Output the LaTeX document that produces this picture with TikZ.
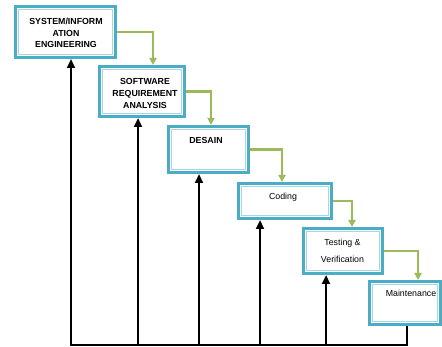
\documentclass[tikz,border=0pt]{standalone}
\usepackage{fontspec}
\setmainfont{Liberation Sans}
\usetikzlibrary{arrows.meta}
\definecolor{boxteal}{HTML}{4BACC6}
\definecolor{boxinner}{HTML}{A5D8E6}
\definecolor{flowgreen}{HTML}{9BBB59}
\begin{document}
\begin{tikzpicture}[x=1pt,y=-1pt,
  phase/.style={draw=boxteal, line width=2.8pt, fill=white, rectangle,
    inner sep=0pt},
  innerline/.style={draw=boxinner, line width=1.1pt},
  lbl/.style={align=center, inner sep=0pt,
    font=\fontsize{8.8}{11.6}\selectfont},
  lblbold/.style={lbl, font=\fontsize{8.8}{11.6}\selectfont\bfseries},
  flow/.style={draw=flowgreen, line width=2.2pt,
    -{Triangle[length=7pt,width=7pt]}},
  ret/.style={draw=black, line width=2.3pt, line join=miter,
    -{Triangle[length=9pt,width=8pt]}}
]
\useasboundingbox (0,0) rectangle (442,347);

% phase boxes
\node[phase, minimum width=100.2pt, minimum height=51.2pt] (b1) at (65.5,32) {};
\node[phase, minimum width=85.2pt, minimum height=50.2pt] (b2) at (142,91.5) {};
\node[phase, minimum width=80.2pt, minimum height=46.2pt] (b3) at (208.5,149.5) {};
\node[phase, minimum width=93.2pt, minimum height=35.2pt] (b4) at (285,201) {};
\node[phase, minimum width=79.2pt, minimum height=45.2pt] (b5) at (343,251) {};
\node[phase, minimum width=71.2pt, minimum height=43.2pt] (b6) at (405,303) {};

% thin inner frame of each box
\foreach \n in {b1,b2,b3,b4,b5,b6}
  \draw[innerline] ([shift={(4.4,4.4)}]\n.north west)
    rectangle ([shift={(-4.4,-4.4)}]\n.south east);

% box captions
\node[lblbold] (t1) at (66,33) {SYSTEM/INFORM\\ATION\\ENGINEERING};
\node[lblbold] (t2) at (145,93.5) {SOFTWARE\\REQUIREMENT\\ANALYSIS};
\node[lblbold] (t3) at (206,140) {DESAIN};
\node[lbl] (t4) at (283,197) {Coding};
\node[lbl, font=\fontsize{8.8}{17}\selectfont] (t5) at (342.5,250.5) {Testing \&\\Verification};
\node[lbl] (t6) at (411,293) {Maintenance};

% cascade to the next phase
\draw[flow] (b1.east) -| ([xshift=11pt]b2.north);
\draw[flow] (b2.east) -| ([xshift=2.5pt]b3.north);
\draw[flow] (b3.east) -| ([xshift=-3pt]b4.north);
\draw[flow] (b4.east) -| ([xshift=9pt]b5.north);
\draw[flow] (b5.east) -| ([xshift=13pt]b6.north);

% feedback paths along the bottom
\coordinate (base1) at (71,345);
\coordinate (base2) at (138,345);
\coordinate (base3) at (199,345);
\coordinate (base4) at (260,345);
\coordinate (base5) at (326,345);
\coordinate (base6) at (407,345);
\draw[ret] (b6.south -| base6) |- (base1) -- (b1.south -| base1);
\draw[ret] (base2) -- (b2.south -| base2);
\draw[ret] (base3) -- (b3.south -| base3);
\draw[ret] (base4) -- (b4.south -| base4);
\draw[ret] (base5) -- (b5.south -| base5);
\end{tikzpicture}
\end{document}
